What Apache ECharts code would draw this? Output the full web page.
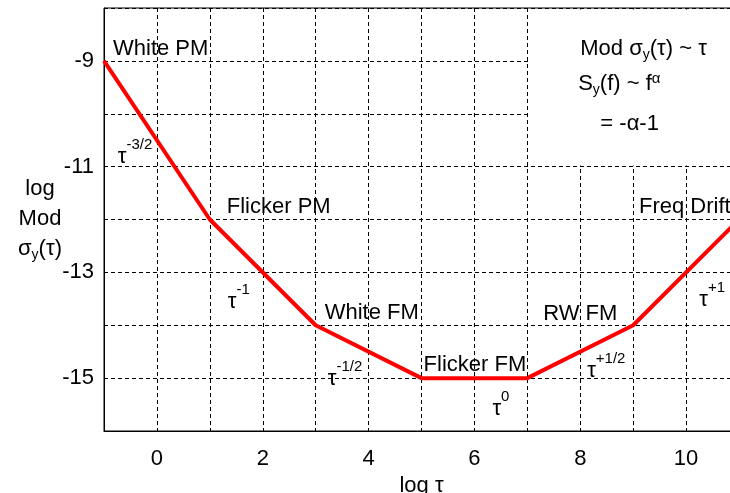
<!DOCTYPE html>
<html>
<head>
<meta charset="utf-8">
<script src="https://cdn.jsdelivr.net/npm/echarts@6/dist/echarts.min.js"></script>
<style>
html,body{margin:0;padding:0;background:#fff;}
#c{width:730px;height:493px;}
</style>
</head>
<body>
<div id="c"></div>
<script>
// Data
const logTau = [-1, 1, 3, 5, 7, 9, 11];
const logModSigma = [-9, -12, -14, -15, -15, -14, -12];
const xTickLabels = [0, 2, 4, 6, 8, 10];
const yTickLabels = [-9, -11, -13, -15];
const noiseNames = ['White PM', 'Flicker PM', 'White FM', 'Flicker FM', 'RW FM', 'Freq Drift'];
const slopeExps = ['-3/2', '-1', '-1/2', '0', '+1/2', '+1'];

const FONT = '"Liberation Sans", Arial, Helvetica, sans-serif';
const FS = 22;

const rich = {
  m: {fontSize: FS, fontFamily: FONT, color: '#000'},
  sub: {fontSize: 14, fontFamily: FONT, color: '#000', padding: [12, 0, 0, 0]},
  asup: {fontSize: 15, fontFamily: FONT, color: '#000', padding: [0, 0, 10, 0]},
  t: {fontSize: FS, fontFamily: FONT, color: '#000'},
  tsup: {fontSize: 15, fontFamily: FONT, color: '#000', padding: [0, 0, 24, 0]}
};

const chart = echarts.init(document.getElementById('c'), null, {renderer: 'canvas'});

const option = {
  animation: false,
  backgroundColor: '#fff',
  grid: {left: 104, top: 8, bottom: 62, right: -9, outerBoundsMode: 'none', containLabel: false,
         show: true, borderColor: '#000', borderWidth: 1},
  xAxis: {
    type: 'value', min: -1, max: 11, interval: 1,
    name: 'log τ', nameLocation: 'middle', nameGap: 43,
    nameTextStyle: {fontSize: FS, fontFamily: FONT, color: '#000'},
    axisLine: {show: true, onZero: false, lineStyle: {color: '#000', width: 1}},
    axisTick: {show: false},
    axisLabel: {
      fontSize: FS, fontFamily: FONT, color: '#000', margin: 17,
      showMinLabel: true, showMaxLabel: true, hideOverlap: false,
      formatter: v => xTickLabels.includes(v) ? String(v) : ''
    },
    splitLine: {show: true, lineStyle: {color: '#000', type: [4, 3], width: 1}}
  },
  yAxis: {
    type: 'value', min: -16, max: -8, interval: 1,
    axisLine: {show: true, onZero: false, lineStyle: {color: '#000', width: 1}},
    axisTick: {show: false},
    axisLabel: {
      fontSize: FS, fontFamily: FONT, color: '#000', margin: 10,
      formatter: v => yTickLabels.includes(v) ? String(v) : ''
    },
    splitLine: {show: true, lineStyle: {color: '#000', type: [4, 3], width: 1}}
  },
  series: [{
    type: 'line',
    data: logTau.map((x, i) => [x, logModSigma[i]]),
    symbol: 'none',
    lineStyle: {color: '#ff0000', width: 4},
    z: 3,
    markArea: {
      silent: true,
      itemStyle: {color: '#fff', opacity: 1},
      data: [[{coord: [7.03, -10.98]}, {coord: [11.5, -8.03]}]]
    }
  }],
  graphic: [{
    type: 'text', x: 40, y: 219, z: 100,
    style: {
      text: '{m|log}\n{m|Mod}\n{m|σ}{sub|y}{m|(τ)}',
      rich: {
        m: {fontSize: FS, fontFamily: FONT, color: '#000', lineHeight: 30},
        sub: {fontSize: 14, fontFamily: FONT, color: '#000', padding: [12, 0, 0, 0], lineHeight: 30}
      },
      align: 'center', verticalAlign: 'middle',
      textAlign: 'center', textVerticalAlign: 'middle'
    }
  }]
};
chart.setOption(option);

const ann = [
  {t: noiseNames[0], x: -0.83, y: -8.78},
  {t: noiseNames[1], x: 1.32, y: -11.76},
  {t: noiseNames[2], x: 3.17, y: -13.76},
  {t: noiseNames[3], x: 5.04, y: -14.75},
  {t: noiseNames[4], x: 7.30, y: -13.78},
  {t: noiseNames[5], x: 9.11, y: -11.76},
  {t: '{t|τ}{tsup|' + slopeExps[0] + '}', x: -0.74, y: -10.82},
  {t: '{t|τ}{tsup|' + slopeExps[1] + '}', x: 1.34, y: -13.55},
  {t: '{t|τ}{tsup|' + slopeExps[2] + '}', x: 3.23, y: -15.02},
  {t: '{t|τ}{tsup|' + slopeExps[3] + '}', x: 6.34, y: -15.58},
  {t: '{t|τ}{tsup|' + slopeExps[4] + '}', x: 8.13, y: -14.86},
  {t: '{t|τ}{tsup|' + slopeExps[5] + '}', x: 10.25, y: -13.52},
  {t: '{m|Mod σ}{sub|y}{m|(τ) ~ τ}', x: 8.0, y: -8.77},
  {t: '{m|S}{sub|y}{m|(f) ~ f}{asup|α}', x: 7.96, y: -9.44},
  {t: '{m|= -α-1}', x: 8.38, y: -10.19}
];

const g = ann.map(a => {
  const p = chart.convertToPixel({gridIndex: 0}, [a.x, a.y]);
  return {
    type: 'text', x: p[0], y: p[1], z: 100,
    style: {
      text: a.t, rich: rich,
      fontSize: FS, fontFamily: FONT, fill: '#000',
      align: 'left', verticalAlign: 'middle',
      textAlign: 'left', textVerticalAlign: 'middle'
    }
  };
});
chart.setOption({graphic: option.graphic.concat(g)});
</script>
</body>
</html>
